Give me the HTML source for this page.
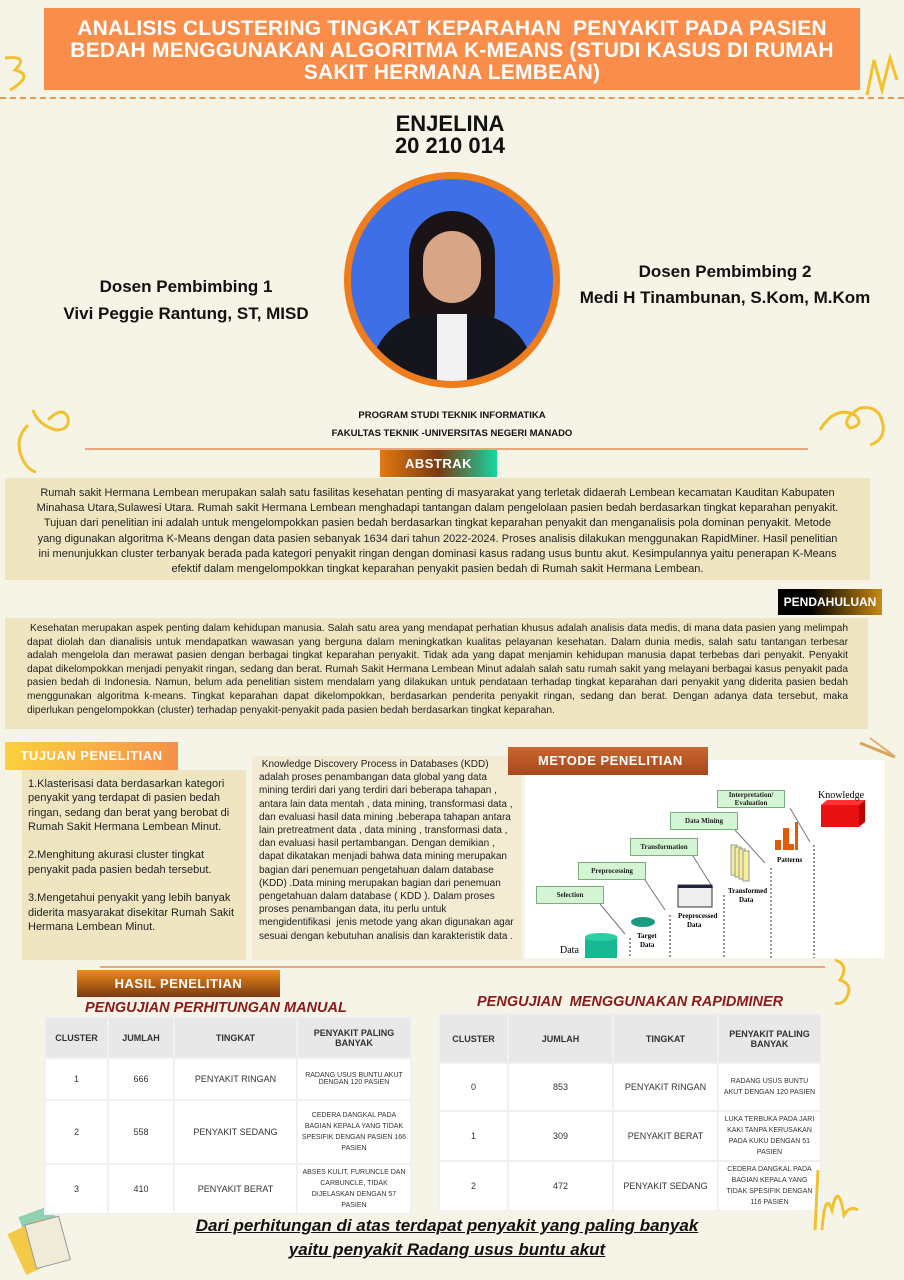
<!DOCTYPE html>
<html><head><meta charset="utf-8"><style>
*{margin:0;padding:0;box-sizing:border-box}
body{width:904px;height:1280px;background:#f6f4e7;position:relative;overflow:hidden;font-family:"Liberation Sans",sans-serif;color:#222}
.a{position:absolute}
.title{left:44px;top:8px;width:816px;height:82px;background:#fb8d4b;color:#fff;font-weight:bold;font-size:21px;line-height:22px;text-align:center;padding-top:10px;letter-spacing:0.2px;transform-origin:left}
.tag{color:#fff;font-weight:bold;font-size:13px;line-height:27px;text-align:center;letter-spacing:.5px}
.box{background:#efe6c1}
table{border-collapse:collapse;position:absolute;background:#fff;font-size:9px;text-align:center;color:#333}
td{border:2px solid #f0f0f0;padding:2px}
tr.h td{background:#e8e8e8;font-weight:bold;font-size:9px}
.sub{color:#8b1a1a;font-weight:bold;font-style:italic;font-size:14.5px}
.kd{background:#d4f5d4;border:1px solid #7bb07b;font-family:"Liberation Serif",serif;font-size:7px;font-weight:bold;text-align:center;position:absolute}
</style></head><body>
<div class="a title">ANALISIS CLUSTERING TINGKAT KEPARAHAN&nbsp; PENYAKIT PADA PASIEN<br>BEDAH MENGGUNAKAN ALGORITMA K-MEANS (STUDI KASUS DI RUMAH<br>SAKIT HERMANA LEMBEAN)</div>
<div class="a" style="left:0;top:97px;width:904px;border-top:2px dashed #e89a50"></div>
<svg class="a" style="left:0;top:50px" width="40" height="50"><path d="M5 8 Q30 5 15 20 Q35 25 10 40" stroke="#f2c12e" stroke-width="3" fill="none"/></svg>
<svg class="a" style="left:862px;top:50px" width="42" height="60"><path d="M5 45 L12 10 L20 40 L28 8 L35 30" stroke="#f2c12e" stroke-width="3" fill="none"/></svg>
<div class="a" style="left:380px;top:113px;width:140px;text-align:center;font-weight:900;font-size:22px;line-height:22px;color:#111">ENJELINA<br>20 210 014</div>
<div class="a" style="left:344px;top:172px;width:216px;height:216px;border-radius:50%;background:#f07d1d"></div>
<div class="a" style="left:351px;top:179px;width:202px;height:202px;border-radius:50%;background:#3e6fe6;overflow:hidden">
 <div class="a" style="left:58px;top:32px;width:86px;height:120px;border-radius:45px 45px 20px 20px;background:#1a1416"></div>
 <div class="a" style="left:72px;top:52px;width:58px;height:72px;border-radius:30px;background:#d9a587"></div>
 <div class="a" style="left:20px;top:135px;width:162px;height:90px;border-radius:60px 60px 0 0;background:#15151e"></div>
 <div class="a" style="left:86px;top:135px;width:30px;height:70px;background:#f2f2f2"></div>
</div>
<div class="a" style="left:40px;top:273px;width:292px;text-align:center;font-weight:bold;font-size:17px;line-height:27px;color:#111">Dosen Pembimbing 1<br>Vivi Peggie Rantung, ST, MISD</div>
<div class="a" style="left:560px;top:259px;width:330px;text-align:center;font-weight:bold;font-size:17px;line-height:26px;color:#111">Dosen Pembimbing 2<br>Medi H Tinambunan, S.Kom, M.Kom</div>
<div class="a" style="left:250px;top:407px;width:404px;text-align:center;font-weight:bold;font-size:9.5px;line-height:18px;color:#111">PROGRAM STUDI TEKNIK INFORMATIKA<br>FAKULTAS TEKNIK -UNIVERSITAS NEGERI MANADO</div>
<svg class="a" style="left:8px;top:400px" width="70" height="75"><path d="M40 20 Q55 5 60 18 Q62 30 48 30 Q30 25 25 10 M20 25 Q5 40 15 60 Q20 70 28 72" stroke="#f2c12e" stroke-width="3" fill="none"/></svg>
<svg class="a" style="left:815px;top:400px" width="80" height="60"><path d="M5 30 Q20 5 40 15 Q50 25 35 28 Q25 20 45 8 Q65 5 68 25 Q70 40 55 45" stroke="#f2c12e" stroke-width="3" fill="none"/></svg>
<div class="a" style="left:85px;top:448px;width:723px;border-top:2px solid #e8a77a"></div>
<div class="a tag" style="left:380px;top:450px;width:117px;height:27px;background:linear-gradient(90deg,#e27a10,#7a3a12 50%,#18d6a0)">ABSTRAK</div>
<div class="a box" style="left:5px;top:478px;width:865px;height:102px;font-size:11px;line-height:15.2px;text-align:center;padding:8px 26px 0">Rumah sakit Hermana Lembean merupakan salah satu fasilitas kesehatan penting di masyarakat yang terletak didaerah Lembean kecamatan Kauditan Kabupaten Minahasa Utara,Sulawesi Utara. Rumah sakit Hermana Lembean menghadapi tantangan dalam pengelolaan pasien bedah berdasarkan tingkat keparahan penyakit. Tujuan dari penelitian ini adalah untuk mengelompokkan pasien bedah berdasarkan tingkat keparahan penyakit dan menganalisis pola dominan penyakit. Metode yang digunakan algoritma K-Means dengan data pasien sebanyak 1634 dari tahun 2022-2024. Proses analisis dilakukan menggunakan RapidMiner. Hasil penelitian ini menunjukkan cluster terbanyak berada pada kategori penyakit ringan dengan dominasi kasus radang usus buntu akut. Kesimpulannya yaitu penerapan K-Means efektif dalam mengelompokkan tingkat keparahan penyakit pasien bedah di Rumah sakit Hermana Lembean.</div>
<div class="a tag" style="left:778px;top:589px;width:104px;height:26px;line-height:26px;font-size:12px;letter-spacing:0;background:linear-gradient(90deg,#000 30%,#c98a12)">PENDAHULUAN</div>
<div class="a box" style="left:5px;top:618px;width:863px;height:111px;font-size:10.2px;line-height:13.6px;text-align:justify;padding:4px 20px 0 22px">&nbsp;Kesehatan merupakan aspek penting dalam kehidupan manusia. Salah satu area yang mendapat perhatian khusus adalah analisis data medis, di mana data pasien yang melimpah dapat diolah dan dianalisis untuk mendapatkan wawasan yang berguna dalam meningkatkan kualitas pelayanan kesehatan. Dalam dunia medis, salah satu tantangan terbesar adalah mengelola dan merawat pasien dengan berbagai tingkat keparahan penyakit. Tidak ada yang dapat menjamin kehidupan manusia dapat terbebas dari penyakit. Penyakit dapat dikelompokkan menjadi penyakit ringan, sedang dan berat. Rumah Sakit Hermana Lembean Minut adalah salah satu rumah sakit yang melayani berbagai kasus penyakit pada pasien bedah di Indonesia. Namun, belum ada penelitian sistem mendalam yang dilakukan untuk pendataan terhadap tingkat keparahan dari penyakit yang diderita pasien bedah menggunakan algoritma k-means. Tingkat keparahan dapat dikelompokkan, berdasarkan penderita penyakit ringan, sedang dan berat. Dengan adanya data tersebut, maka diperlukan pengelompokkan (cluster) terhadap penyakit-penyakit pada pasien bedah berdasarkan tingkat keparahan.</div>
<div class="a tag" style="left:5px;top:742px;width:173px;height:28px;line-height:28px;background:linear-gradient(90deg,#fcd13c,#f7904a)">TUJUAN PENELITIAN</div>
<div class="a box" style="left:22px;top:770px;width:224px;height:190px;font-size:11px;line-height:14.3px;padding:7px 6px 0 6px">1.Klasterisasi data berdasarkan kategori penyakit yang terdapat di pasien bedah ringan, sedang dan berat yang berobat di Rumah Sakit Hermana Lembean Minut.<br><br>2.Menghitung akurasi cluster tingkat penyakit pada pasien bedah tersebut.<br><br>3.Mengetahui penyakit yang lebih banyak diderita masyarakat disekitar Rumah Sakit Hermana Lembean Minut.</div>
<div class="a" style="left:252px;top:756px;width:270px;height:204px;background:#f3ecd2;font-size:10px;line-height:13.2px;padding:2px 4px 0 7px">&nbsp;Knowledge Discovery Process in Databases (KDD) adalah proses penambangan data global yang data mining terdiri dari yang terdiri dari beberapa tahapan , antara lain data mentah , data mining, transformasi data , dan evaluasi hasil data mining .beberapa tahapan antara lain pretreatment data , data mining , transformasi data , dan evaluasi hasil pertambangan. Dengan demikian , dapat dikatakan menjadi bahwa data mining merupakan bagian dari penemuan pengetahuan dalam database (KDD) .Data mining merupakan bagian dari penemuan pengetahuan dalam database ( KDD ). Dalam proses proses penambangan data, itu perlu untuk mengidentifikasi&nbsp; jenis metode yang akan digunakan agar sesuai dengan kebutuhan analisis dan karakteristik data .</div>
<div class="a" style="left:525px;top:760px;width:359px;height:198px;background:#fff"></div>
<div class="a tag" style="left:508px;top:747px;width:200px;height:28px;line-height:28px;text-align:left;padding-left:30px;background:linear-gradient(180deg,#c9672e,#a9461e)">METODE PENELITIAN</div>
<div class="kd" style="left:536px;top:886px;width:68px;height:18px;line-height:16px">Selection</div>
<div class="kd" style="left:578px;top:862px;width:68px;height:18px;line-height:16px">Preprocessing</div>
<div class="kd" style="left:630px;top:838px;width:68px;height:18px;line-height:16px">Transformation</div>
<div class="kd" style="left:670px;top:812px;width:68px;height:18px;line-height:16px">Data Mining</div>
<div class="kd" style="left:717px;top:790px;width:68px;height:18px;line-height:8px">Interpretation/<br>Evaluation</div>
<svg class="a" style="left:525px;top:760px" width="359" height="198" font-family="Liberation Serif" font-size="7" font-weight="bold">
<g stroke="#777" fill="none"><line x1="75" y1="144" x2="100" y2="174"/><line x1="120" y1="120" x2="140" y2="150"/><line x1="168" y1="96" x2="188" y2="128"/><line x1="210" y1="70" x2="240" y2="103"/><line x1="265" y1="48" x2="285" y2="82"/></g>
<g stroke="#333" stroke-dasharray="2,2"><line x1="105" y1="178" x2="105" y2="198"/><line x1="145" y1="155" x2="145" y2="198"/><line x1="199" y1="135" x2="199" y2="198"/><line x1="246" y1="108" x2="246" y2="198"/><line x1="289" y1="85" x2="289" y2="198"/></g>
<rect x="60" y="177" width="32" height="21" fill="#16b892"/><ellipse cx="76" cy="177" rx="16" ry="4" fill="#2ecfa6"/>
<text x="35" y="193" font-size="10" font-weight="normal">Data</text>
<ellipse cx="118" cy="162" rx="12" ry="5" fill="#1a9a80"/><text x="112" y="178">Target</text><text x="115" y="187">Data</text>
<rect x="153" y="125" width="34" height="22" fill="#eee" stroke="#333"/><rect x="153" y="125" width="34" height="3" fill="#224"/>
<text x="153" y="158">Preprocessed</text><text x="162" y="167">Data</text>
<g fill="#f5ef9a" stroke="#999"><rect x="206" y="85" width="6" height="30"/><rect x="210" y="87" width="6" height="30"/><rect x="214" y="89" width="6" height="30"/><rect x="218" y="91" width="6" height="30"/></g>
<text x="203" y="133">Transformed</text><text x="214" y="142">Data</text>
<rect x="250" y="80" width="6" height="10" fill="#e05a0a"/><rect x="258" y="68" width="6" height="22" fill="#e05a0a"/><rect x="264" y="84" width="5" height="6" fill="#e05a0a"/><rect x="270" y="62" width="3" height="28" fill="#e05a0a"/>
<text x="252" y="102">Patterns</text>
<rect x="296" y="45" width="38" height="22" fill="#e81010"/><polygon points="296,45 302,40 340,40 334,45" fill="#f33"/><polygon points="334,45 340,40 340,62 334,67" fill="#b00"/>
<text x="293" y="38" font-size="10" font-weight="normal">Knowledge</text>
</svg>
<svg class="a" style="left:855px;top:735px" width="45" height="30"><line x1="5" y1="8" x2="40" y2="22" stroke="#d9a55c" stroke-width="3"/><line x1="15" y1="3" x2="38" y2="20" stroke="#e0b070" stroke-width="2"/></svg>
<div class="a" style="left:100px;top:966px;width:725px;border-top:2px solid #e8a77a"></div>
<svg class="a" style="left:825px;top:955px" width="40" height="60"><path d="M10 5 Q25 10 15 25 Q30 30 20 45 Q15 50 10 48" stroke="#f2c12e" stroke-width="3" fill="none"/></svg>
<div class="a tag" style="left:77px;top:970px;width:203px;height:27px;line-height:27px;background:linear-gradient(180deg,#f08a1a,#7a3a10)">HASIL PENELITIAN</div>
<div class="a sub" style="left:85px;top:1000px">PENGUJIAN PERHITUNGAN MANUAL</div>
<div class="a sub" style="left:477px;top:994px">PENGUJIAN&nbsp; MENGGUNAKAN RAPIDMINER</div>
<svg class="a" style="left:5px;top:1195px" width="70" height="85"><rect x="20" y="15" width="35" height="45" fill="#8fd1b0" transform="rotate(-20 37 37)"/><rect x="10" y="30" width="35" height="45" fill="#f5c948" transform="rotate(-25 27 52)"/><rect x="25" y="25" width="35" height="45" fill="#f0ead8" stroke="#999" transform="rotate(-15 42 47)"/></svg>
<table style="left:44px;top:1016px;width:368px;height:198px">
<tr class="h" style="height:41px"><td style="width:63px">CLUSTER</td><td style="width:66px">JUMLAH</td><td style="width:123px">TINGKAT</td><td>PENYAKIT PALING BANYAK</td></tr>
<tr style="height:42px"><td>1</td><td>666</td><td>PENYAKIT RINGAN</td><td style="font-size:7px">RADANG USUS BUNTU AKUT DENGAN 120 PASIEN</td></tr>
<tr style="height:64px"><td>2</td><td>558</td><td>PENYAKIT SEDANG</td><td style="font-size:7px;line-height:11px">CEDERA DANGKAL PADA BAGIAN KEPALA YANG TIDAK SPESIFIK DENGAN PASIEN 166 PASIEN</td></tr>
<tr><td>3</td><td>410</td><td>PENYAKIT BERAT</td><td style="font-size:7px;line-height:11px">ABSES KULIT, FURUNCLE DAN CARBUNCLE, TIDAK DIJELASKAN DENGAN 57 PASIEN</td></tr>
</table>
<table style="left:438px;top:1013px;width:384px;height:193px">
<tr class="h" style="height:49px"><td style="width:69px">CLUSTER</td><td style="width:105px">JUMLAH</td><td style="width:105px">TINGKAT</td><td>PENYAKIT PALING BANYAK</td></tr>
<tr style="height:48px"><td>0</td><td>853</td><td>PENYAKIT RINGAN</td><td style="font-size:7px;line-height:11px">RADANG USUS BUNTU AKUT DENGAN 120 PASIEN</td></tr>
<tr style="height:48px"><td>1</td><td>309</td><td>PENYAKIT BERAT</td><td style="font-size:7px;line-height:11px">LUKA TERBUKA PADA JARI KAKI TANPA KERUSAKAN PADA KUKU DENGAN 51 PASIEN</td></tr>
<tr><td>2</td><td>472</td><td>PENYAKIT SEDANG</td><td style="font-size:7px;line-height:11px">CEDERA DANGKAL PADA BAGIAN KEPALA YANG TIDAK SPESIFIK DENGAN 116 PASIEN</td></tr>
</table>
<svg class="a" style="left:810px;top:1160px" width="60" height="80"><path d="M5 70 L8 10 M12 70 Q15 30 22 50 Q28 20 34 55 Q40 45 48 50" stroke="#f2c12e" stroke-width="3" fill="none"/></svg>
<div class="a" style="left:150px;top:1214px;width:594px;text-align:center;font-weight:bold;font-style:italic;text-decoration:underline;font-size:17px;line-height:24px;color:#111">Dari perhitungan di atas terdapat penyakit yang paling banyak<br>yaitu penyakit Radang usus buntu akut</div>
</body></html>
